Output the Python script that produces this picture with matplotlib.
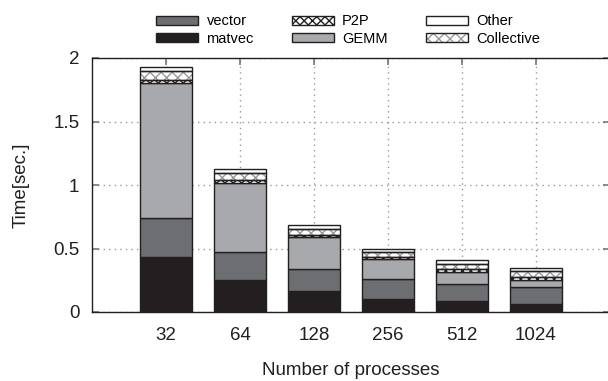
import matplotlib
matplotlib.use("Agg")
import matplotlib.pyplot as plt
from matplotlib.legend_handler import HandlerTuple
from matplotlib.patches import Patch
import numpy as np

# data
PROCS = ["32", "64", "128", "256", "512", "1024"]
MATVEC = [0.435, 0.252, 0.168, 0.105, 0.087, 0.066]
VECTOR = [0.303, 0.218, 0.168, 0.157, 0.133, 0.128]
GEMM = [1.062, 0.543, 0.252, 0.153, 0.097, 0.056]
P2P = [0.027, 0.027, 0.018, 0.015, 0.019, 0.023]
COLLECTIVE = [0.073, 0.052, 0.045, 0.040, 0.042, 0.047]
OTHER = [0.027, 0.034, 0.034, 0.030, 0.032, 0.026]

plt.rcParams["font.family"] = ["Liberation Sans", "DejaVu Sans"]

fig = plt.figure(figsize=(6.08, 3.81), dpi=100)
ax = fig.add_axes([92 / 608, 69 / 381, 518 / 608, 254 / 381])

x = np.arange(1, len(PROCS) + 1)
width = 0.7
edge = "#231f20"

series = [
    ("matvec", MATVEC, "#231f20", None, None),
    ("vector", VECTOR, "#6d6e71", None, None),
    ("GEMM", GEMM, "#a7a9ac", None, None),
    ("P2P", P2P, "white", "xxxx", "#231f20"),
    ("Collective", COLLECTIVE, "white", "xxx", "#9a9a9a"),
    ("Other", OTHER, "white", None, None),
]

handles = {}
bottom = np.zeros(len(PROCS))
for name, vals, color, hatch, hcolor in series:
    vals = np.array(vals)
    if hatch:
        ax.bar(x, vals, width, bottom=bottom, color=color, edgecolor=hcolor,
               hatch=hatch, linewidth=0, zorder=3)
        ax.bar(x, vals, width, bottom=bottom, fill=False, edgecolor=edge,
               linewidth=1.0, zorder=4)
        h = (Patch(facecolor=color, edgecolor=hcolor, hatch=hatch, linewidth=0),
             Patch(fill=False, edgecolor=edge, linewidth=1.0))
    else:
        ax.bar(x, vals, width, bottom=bottom, color=color, edgecolor=edge,
               linewidth=1.0, zorder=3)
        h = Patch(facecolor=color, edgecolor=edge, linewidth=1.0)
    handles[name] = h
    bottom = bottom + vals

ax.set_xlim(0, 7)
ax.set_ylim(0, 2)
ax.set_xticks(x)
ax.set_xticklabels(PROCS)
ax.set_yticks([0, 0.5, 1, 1.5, 2])
ax.set_yticklabels(["0", "0.5", "1", "1.5", "2"])
ax.tick_params(direction="in", top=True, right=True, length=5, width=1.2,
               color="#777777", labelsize=13.5, pad=11, labelcolor="#231f20")
ax.tick_params(axis="y", pad=9)
ax.grid(True, linestyle=(0, (1, 3)), color="#999999", linewidth=1.0, zorder=0)
for s in ax.spines.values():
    s.set_color("#231f20")
    s.set_linewidth(1.0)

ax.set_xlabel("Number of processes", fontsize=13.5, labelpad=13, color="#231f20")
ax.set_ylabel("Time[sec.]", fontsize=13.5, labelpad=17, color="#231f20")

order = ["vector", "matvec", "P2P", "GEMM", "Other", "Collective"]
leg = fig.legend([handles[n] for n in order], order, ncol=3,
                 loc="center", bbox_to_anchor=(348 / 608, 1 - 30 / 381),
                 frameon=False, fontsize=10.5, handlelength=2.9, handleheight=0.6,
                 columnspacing=2.6, labelspacing=0.22, handletextpad=0.55,
                 handler_map={tuple: HandlerTuple(ndivide=1, pad=0)})

fig.savefig("out.png", dpi=100)
